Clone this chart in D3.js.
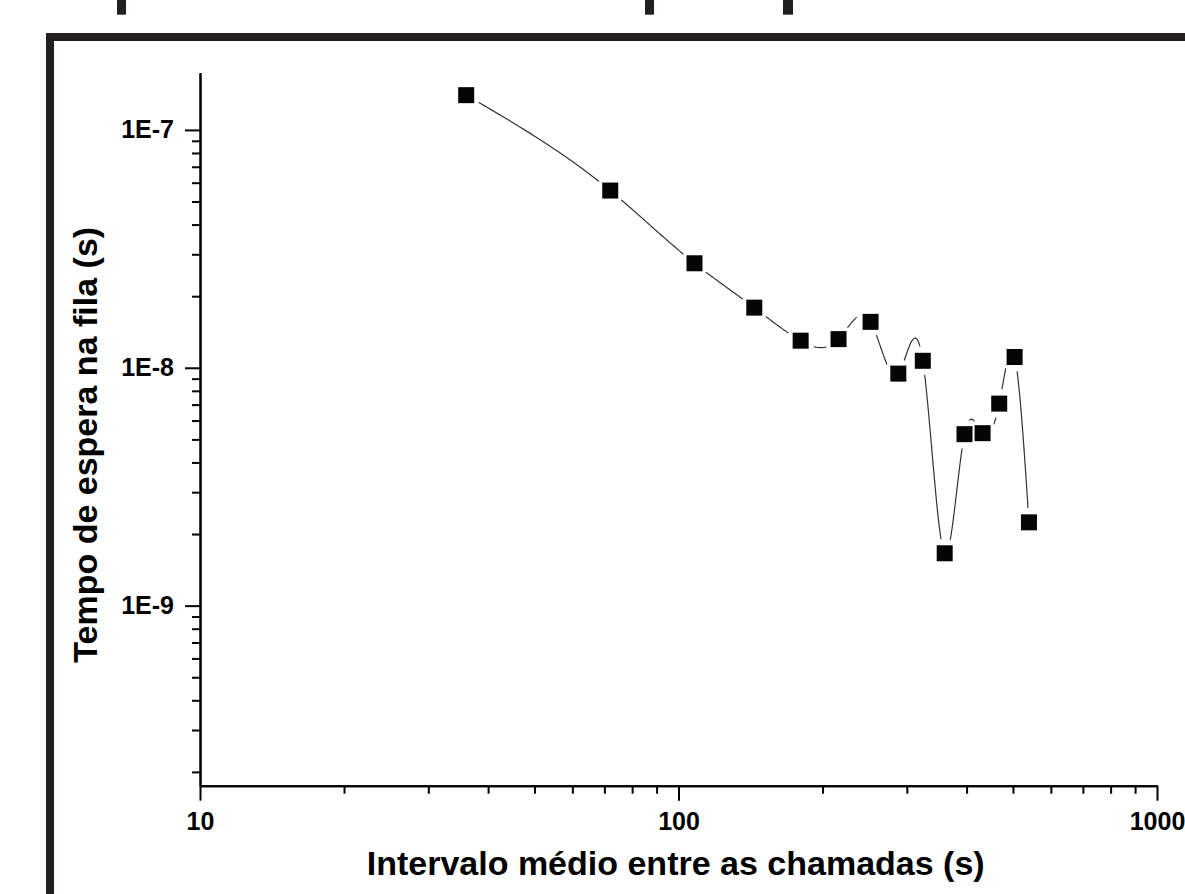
<!DOCTYPE html>
<html>
<head>
<meta charset="utf-8">
<script src="https://cdn.jsdelivr.net/npm/d3@7"></script>
<style>
  html, body { margin: 0; padding: 0; background: #fff; }
  svg { display: block; }
  text { font-family: "Liberation Sans", Arial, Helvetica, sans-serif; font-weight: bold; fill: #000; }
</style>
</head>
<body>
<svg id="chart" width="1185" height="894"></svg>
<script>
// ---- data ----
const intervals = [36, 72, 108, 144, 180, 216, 252, 288, 324, 360, 396, 432, 468, 504, 540];
const waitTimes = [1.40e-7, 5.56e-8, 2.75e-8, 1.79e-8, 1.30e-8, 1.32e-8, 1.56e-8, 9.45e-9, 1.07e-8, 1.66e-9, 5.26e-9, 5.31e-9, 7.07e-9, 1.11e-8, 2.24e-9];
const xMajorTicks = [10, 100, 1000];
const xMajorLabels = ["10", "100", "1000"];
const yMajorTicks = [1e-9, 1e-8, 1e-7];
const yMajorLabels = ["1E-9", "1E-8", "1E-7"];
const xTitle = "Intervalo médio entre as chamadas (s)";
const yTitle = "Tempo de espera na fila (s)";

// ---- layout ----
const svg = d3.select("#chart");
const X0 = 200, X1 = 1157, Y0 = 785.7, Y1 = 72.7;

const x = d3.scaleLog().domain([10, 1000]).range([X0, X1]);
const y = d3.scaleLog().domain([1.75e-10, 1.74e-7]).range([Y0, Y1]);

// outer frame (partial, thick border) and marks at top
svg.append("rect").attr("x", 50).attr("y", 37).attr("width", 1400).attr("height", 1000)
  .attr("fill", "none").attr("stroke", "#231f20").attr("stroke-width", 8);
[[117, 9], [645, 9], [783, 10]].forEach(([px, w]) => {
  svg.append("rect").attr("x", px).attr("y", 0).attr("width", w).attr("height", 14.7).attr("fill", "#231f20");
});

// minor ticks
function minorTicks(domain) {
  const out = [];
  for (let e = Math.floor(Math.log10(domain[0])); e <= Math.ceil(Math.log10(domain[1])); e++) {
    for (let m = 2; m <= 9; m++) {
      const v = m * Math.pow(10, e);
      if (v >= domain[0] && v <= domain[1]) out.push(v);
    }
  }
  return out;
}

function styleAxis(g) {
  g.selectAll("path.domain").attr("stroke", "#000").attr("stroke-width", 2);
  g.selectAll(".tick line").attr("stroke", "#000").attr("stroke-width", 2);
}

// x axis
const gxMinor = svg.append("g").attr("transform", `translate(0,${Y0})`)
  .call(d3.axisBottom(x).tickValues(minorTicks(x.domain())).tickSize(8).tickSizeOuter(0).tickFormat(""));
styleAxis(gxMinor);
const gx = svg.append("g").attr("transform", `translate(0,${Y0})`)
  .call(d3.axisBottom(x).tickValues(xMajorTicks).tickSize(15).tickSizeOuter(0).tickPadding(11.5)
    .tickFormat((d, i) => xMajorLabels[i]));
styleAxis(gx);
gx.selectAll("text").attr("font-size", 25).attr("font-family", null).style("fill", "#000");

// y axis
const gyMinor = svg.append("g").attr("transform", `translate(${X0},0)`)
  .call(d3.axisLeft(y).tickValues(minorTicks(y.domain())).tickSize(8).tickSizeOuter(0).tickFormat(""));
styleAxis(gyMinor);
const gy = svg.append("g").attr("transform", `translate(${X0},0)`)
  .call(d3.axisLeft(y).tickValues(yMajorTicks).tickSize(15).tickSizeOuter(0).tickPadding(11)
    .tickFormat((d, i) => yMajorLabels[i]));
styleAxis(gy);
gy.selectAll("text").attr("font-size", 25).attr("font-family", null).style("fill", "#000");

// titles
svg.append("text").attr("x", 675.7).attr("y", 875).attr("text-anchor", "middle")
  .attr("font-size", 34).text(xTitle);
svg.append("text").attr("transform", "translate(96.7,444.8) rotate(-90)").attr("text-anchor", "middle")
  .attr("font-size", 34).text(yTitle);

// ---- natural cubic spline in log-log space ----
function naturalSpline(xs, ys) {
  const n = xs.length;
  const h = [], alpha = [0];
  for (let i = 0; i < n - 1; i++) h.push(xs[i + 1] - xs[i]);
  for (let i = 1; i < n - 1; i++)
    alpha.push(3 / h[i] * (ys[i + 1] - ys[i]) - 3 / h[i - 1] * (ys[i] - ys[i - 1]));
  const l = [1], mu = [0], z = [0];
  for (let i = 1; i < n - 1; i++) {
    l[i] = 2 * (xs[i + 1] - xs[i - 1]) - h[i - 1] * mu[i - 1];
    mu[i] = h[i] / l[i];
    z[i] = (alpha[i] - h[i - 1] * z[i - 1]) / l[i];
  }
  const c = new Array(n).fill(0), b = [], d = [];
  for (let j = n - 2; j >= 0; j--) {
    c[j] = (j === 0 ? 0 : z[j]) - (j === 0 ? 0 : mu[j] * c[j + 1]);
    b[j] = (ys[j + 1] - ys[j]) / h[j] - h[j] * (c[j + 1] + 2 * c[j]) / 3;
    d[j] = (c[j + 1] - c[j]) / (3 * h[j]);
  }
  const pts = [];
  for (let j = 0; j < n - 1; j++) {
    const steps = 40;
    for (let s = 0; s <= steps; s++) {
      if (j > 0 && s === 0) continue;
      const t = h[j] * s / steps;
      pts.push([xs[j] + t, ys[j] + b[j] * t + c[j] * t * t + d[j] * t * t * t]);
    }
  }
  return pts;
}
const lu = intervals.map(Math.log10), lv = waitTimes.map(Math.log10);
const curve = naturalSpline(lu, lv).map(([u, v]) => [Math.pow(10, u), Math.pow(10, v)]);

// mask: gap around every symbol
const defs = svg.append("defs");
const mask = defs.append("mask").attr("id", "gapMask").attr("maskUnits", "userSpaceOnUse")
  .attr("x", 0).attr("y", 0).attr("width", 1185).attr("height", 894);
mask.append("rect").attr("x", 0).attr("y", 0).attr("width", 1185).attr("height", 894).attr("fill", "#fff");
mask.selectAll("circle").data(intervals).join("circle")
  .attr("cx", (d) => x(d)).attr("cy", (d, i) => y(waitTimes[i])).attr("r", 14.5).attr("fill", "#000");

svg.append("path").datum(curve)
  .attr("d", d3.line().x(d => x(d[0])).y(d => y(d[1])))
  .attr("fill", "none").attr("stroke", "#333").attr("stroke-width", 1.2)
  .attr("mask", "url(#gapMask)");

// symbols
const S = 16;
svg.append("g").selectAll("rect").data(intervals).join("rect")
  .attr("x", d => x(d) - S / 2).attr("y", (d, i) => y(waitTimes[i]) - S / 2)
  .attr("width", S).attr("height", S).attr("fill", "#050505");
</script>
</body>
</html>
